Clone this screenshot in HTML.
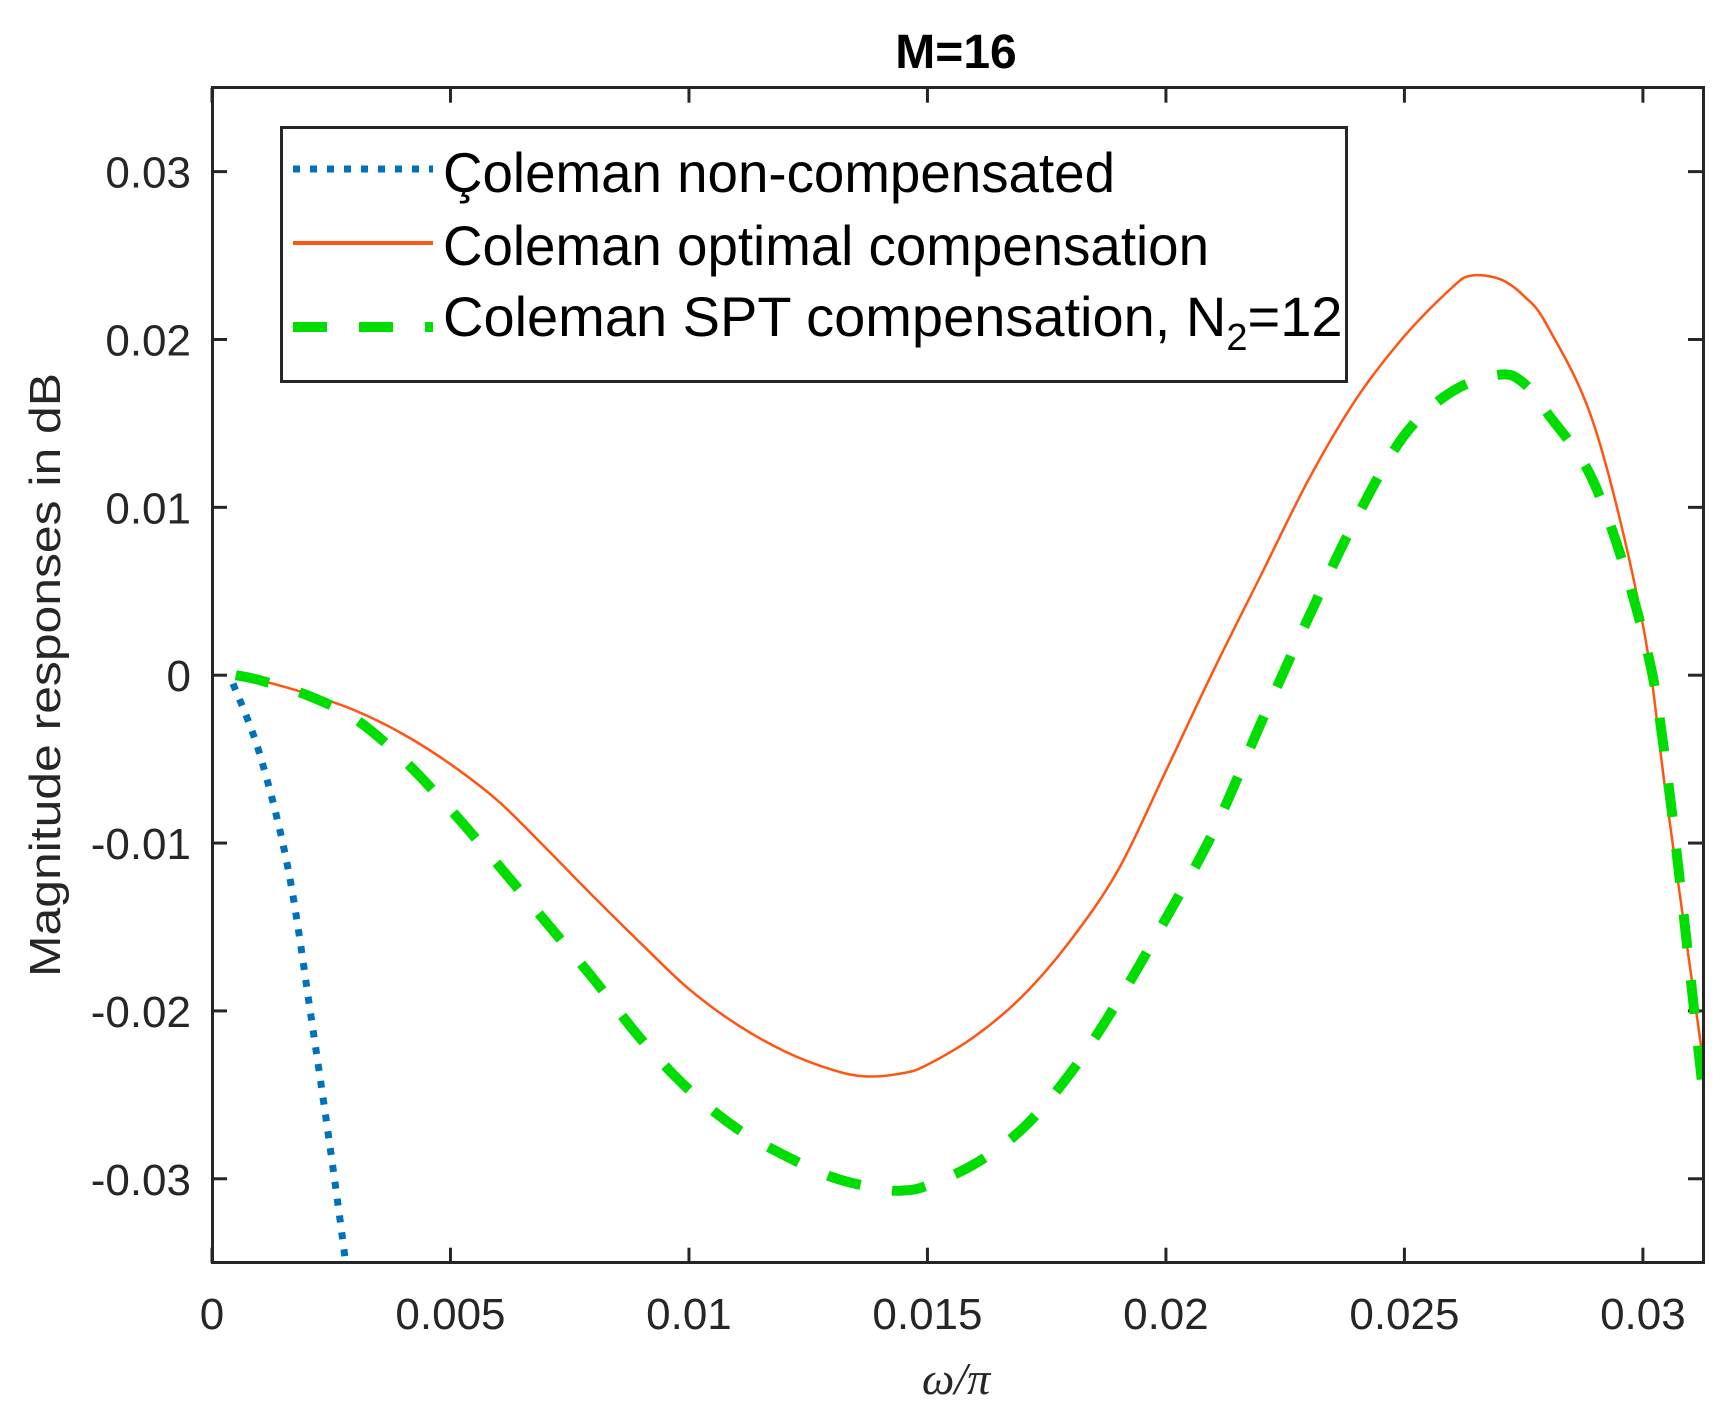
<!DOCTYPE html>
<html><head><meta charset="utf-8"><style>
html,body{margin:0;padding:0;background:#fff;}
svg{display:block;font-family:"Liberation Sans",Arial,sans-serif;}
</style></head><body>
<svg id="chart" width="1727" height="1422" viewBox="0 0 1727 1422" xmlns="http://www.w3.org/2000/svg">
<rect width="1727" height="1422" fill="#fff"/>
<text x="956" y="68" text-anchor="middle" font-weight="bold" font-size="48" fill="#000">M=16</text>
<g id="ticks"></g>
<g id="series"></g>
<rect x="212.5" y="87.5" width="1491" height="1175" fill="none" stroke="#262626" stroke-width="3"/>
<text transform="translate(60,675) rotate(-90)" text-anchor="middle" font-size="44" fill="#262626" textLength="604" lengthAdjust="spacingAndGlyphs">Magnitude responses in dB</text>
<text x="956" y="1394" text-anchor="middle" font-size="46" font-style="italic" fill="#262626" font-family="Liberation Serif, serif">ω/π</text>
<g>
<rect x="281.5" y="127.5" width="1065" height="254" fill="#fff" stroke="#262626" stroke-width="3"/>
<line x1="293" y1="169" x2="433" y2="169" stroke="#0072BD" stroke-width="7" stroke-dasharray="7,10"/>
<text x="443" y="192" font-size="56" fill="#000" textLength="672" lengthAdjust="spacingAndGlyphs">Çoleman non-compensated</text>
<line x1="293" y1="243" x2="433" y2="243" stroke="#FF5511" stroke-width="4"/>
<text x="443" y="265" font-size="56" fill="#000" textLength="766" lengthAdjust="spacingAndGlyphs">Coleman optimal compensation</text>
<line x1="293" y1="327" x2="433" y2="327" stroke="#00DD00" stroke-width="10" stroke-dasharray="34,32"/>
<text x="443" y="336" font-size="56" fill="#000">Coleman SPT compensation, N<tspan font-size="38" dy="14">2</tspan><tspan dy="-14">=12</tspan></text>
</g>
</svg>
<script>
const xTicks=[0,0.005,0.01,0.015,0.02,0.025,0.03];
const xTickLabels=["0","0.005","0.01","0.015","0.02","0.025","0.03"];
const yTicks=[-0.03,-0.02,-0.01,0,0.01,0.02,0.03];
const yTickLabels=["-0.03","-0.02","-0.01","0","0.01","0.02","0.03"];
const optX=[0.0005,0.001,0.002,0.003,0.004,0.005,0.006,0.007,0.008,0.009,0.010,0.011,0.012,0.013,0.0137,0.0145,0.015,0.016,0.017,0.018,0.019,0.020,0.021,0.022,0.023,0.024,0.025,0.026,0.0264,0.027,0.0275,0.028,0.029,0.030,0.0305,0.03125];
const optY=[0,-0.0003,-0.0011,-0.0021,-0.0035,-0.0053,-0.0075,-0.0103,-0.0132,-0.016,-0.0187,-0.0208,-0.0224,-0.0235,-0.0239,-0.0237,-0.0232,-0.0215,-0.0191,-0.0158,-0.0116,-0.0057,0.0003,0.006,0.0117,0.0165,0.0202,0.0231,0.0238,0.0236,0.0226,0.0208,0.0147,0.003,-0.0075,-0.0227];
const sptX=[0.0005,0.001,0.002,0.003,0.004,0.005,0.006,0.007,0.008,0.009,0.010,0.011,0.012,0.013,0.014,0.0145,0.015,0.016,0.017,0.018,0.019,0.020,0.021,0.022,0.023,0.024,0.025,0.026,0.027,0.0275,0.028,0.029,0.030,0.0305,0.03125];
const sptY=[0,-0.0003,-0.0012,-0.0026,-0.005,-0.008,-0.0113,-0.0147,-0.0181,-0.0217,-0.0247,-0.027,-0.0286,-0.0299,-0.0306,-0.0307,-0.0304,-0.0291,-0.027,-0.0237,-0.0194,-0.0145,-0.0093,-0.0028,0.0035,0.0094,0.0143,0.0169,0.0179,0.0174,0.0156,0.0113,0.0025,-0.0057,-0.0245];
const ncX=[0.00044,0.001,0.0016,0.0021,0.0025,0.0028,0.0030];
const ncY=[-0.0005,-0.0047,-0.0116,-0.0208,-0.0286,-0.035,-0.040];
const L=212,R=1703,T=87.7,B=1262.7,XMIN=0,XMAX=0.03126,YMIN=-0.035,YMAX=0.035;
const NS='http://www.w3.org/2000/svg';
function sx(v){return L+(v-XMIN)/(XMAX-XMIN)*(R-L);}
function sy(v){return B-(v-YMIN)/(YMAX-YMIN)*(B-T);}
function mk(tag,attrs,parent){const e=document.createElementNS(NS,tag);for(const k in attrs)e.setAttribute(k,attrs[k]);parent.appendChild(e);return e;}
const tg=document.getElementById('ticks');
xTicks.forEach((v,i)=>{
  const x=sx(v);
  const t1=mk('line',{x1:x,y1:B,x2:x,y2:B-15,stroke:'#262626','stroke-width':3},tg);
  
  
  const t2=mk('line',{x1:x,y1:T,x2:x,y2:T+15,stroke:'#262626','stroke-width':3},tg);
  
  
  const tx=mk('text',{x:x,y:1329,'text-anchor':'middle','font-size':44,fill:'#262626'},tg);
  tx.textContent=xTickLabels[i];
  
  
});
yTicks.forEach((v,i)=>{
  const y=sy(v);
  const t1=mk('line',{x1:L,y1:y,x2:L+15,y2:y,stroke:'#262626','stroke-width':3},tg);
  
  
  const t2=mk('line',{x1:R,y1:y,x2:R-15,y2:y,stroke:'#262626','stroke-width':3},tg);
  
  
  const tx=mk('text',{x:191,y:y+16,'text-anchor':'end','font-size':44,fill:'#262626'},tg);
  tx.textContent=yTickLabels[i];
  
  
});
const sg=document.getElementById('series');
const cp=mk('clipPath',{id:'clip'},sg);
mk('rect',{x:L,y:T,width:R-L,height:B-T},cp);
function path(xs,ys){
  const p=xs.map((v,i)=>[sx(v),sy(ys[i])]);
  let d='M'+p[0][0].toFixed(1)+','+p[0][1].toFixed(1);
  for(let i=0;i<p.length-1;i++){
    const p0=p[Math.max(0,i-1)],p1=p[i],p2=p[i+1],p3=p[Math.min(p.length-1,i+2)];
    const c1x=p1[0]+(p2[0]-p0[0])/6,c1y=p1[1]+(p2[1]-p0[1])/6;
    const c2x=p2[0]-(p3[0]-p1[0])/6,c2y=p2[1]-(p3[1]-p1[1])/6;
    d+='C'+c1x.toFixed(1)+','+c1y.toFixed(1)+' '+c2x.toFixed(1)+','+c2y.toFixed(1)+' '+p2[0].toFixed(1)+','+p2[1].toFixed(1);
  }
  return d;
}
const pn=mk('path',{d:path(ncX,ncY),fill:'none',stroke:'#0072BD','stroke-width':7,'stroke-dasharray':'7,10','clip-path':'url(#clip)'},sg);


const po=mk('path',{d:path(optX,optY),fill:'none',stroke:'#FF5511','stroke-width':2.5,'stroke-linejoin':'round','clip-path':'url(#clip)'},sg);


const ps=mk('path',{d:path(sptX,sptY),fill:'none',stroke:'#00DD00','stroke-width':10,'stroke-dasharray':'34,32','clip-path':'url(#clip)'},sg);


</script>
</body></html>
